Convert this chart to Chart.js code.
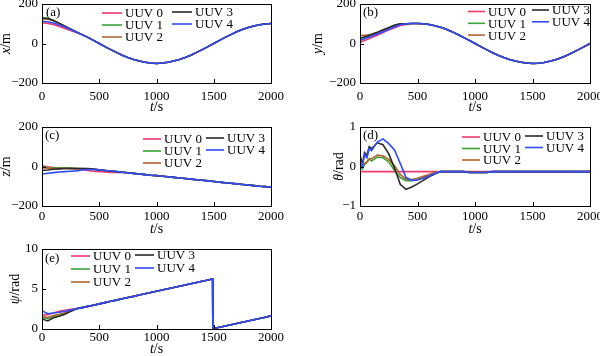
<!DOCTYPE html>
<html><head><meta charset="utf-8">
<script src="https://cdn.jsdelivr.net/npm/chart.js@4"></script>
<style>
html,body{margin:0;padding:0;background:#fff;width:600px;height:356px;overflow:hidden}
canvas{position:absolute;left:0;top:0}
</style></head><body>
<canvas id="ca" width="600" height="356"></canvas>
<canvas id="cb" width="600" height="356"></canvas>
<canvas id="cc" width="600" height="356"></canvas>
<canvas id="cd" width="600" height="356"></canvas>
<canvas id="ce" width="600" height="356"></canvas>
<script>
// ---- data ----
const NAMES = ['UUV 0','UUV 1','UUV 2','UUV 3','UUV 4'];
const T = [0,50,100,150,200,250,300,350,400,450,500,550,600,650,700,750,800,850,900,950,1000,1050,1100,1150,1200,1250,1300,1350,1400,1450,1500,1550,1600,1650,1700,1750,1800,1850,1900,1950,2000];
const T_TH = [0,20,40,60,80,100,150,200,250,300,350,400,450,500,550,600,650,700,750,800,850,900,950,1000,1050,1100,1150,1200,1250,1300,1350,1400,1450,1500,1550,1600,1650,1700,1750,1800,1850,1900,1950,2000];
const T_PSI = [0,50,100,150,200,250,300,350,400,450,500,550,600,650,700,750,800,850,900,950,1000,1050,1100,1150,1200,1250,1300,1350,1400,1450,1490,1492,1550,1600,1650,1700,1750,1800,1850,1900,1950,2000];

// (a) x/m
const X_MAIN = [113,110,104,94,83,71,58,45,31,16,0,-16,-31,-45,-59,-71,-81,-89,-95,-99,-101,-99,-95,-89,-81,-71,-59,-45,-31,-16,0,16,31,45,59,71,81,89,95,99,101];
const X_EARLY_0 = [105,102,96,86,76,66,56];
const X_EARLY_1 = [130,128,118,103,88,73];
const X_EARLY_2 = [126,124,115,101,87,72];
const X_EARLY_3 = [128,126,116,102,87,72];

// (b) y/m
const Y_MAIN = [15,26,37,48,60,72,84,95,100,101,101,100,96,90,82,72,60,46,31,16,0,-16,-31,-46,-59,-71,-81,-89,-95,-99,-101,-100,-96,-90,-82,-72,-60,-46,-31,-16,0];
const Y_EARLY_0 = [5,18,30,42,55,68,80,91,97];
const Y_EARLY_1 = [20,32,44,56,68,80,92,100];
const Y_EARLY_2 = [42,42,47,57,68,80,91,100];
const Y_EARLY_3 = [28,35,45,56,68,80,92,100];

// (c) z/m
const Z_MAIN = [-38,-34,-31,-28,-26,-24,-22,-18,-15,-15,-17,-20,-23,-26,-29,-32,-35,-38,-41,-44,-46,-49,-52,-55,-58,-61,-64,-67,-70,-73,-76,-79,-82,-85,-88,-91,-94,-97,-100,-102,-105];
const Z_EARLY_0 = [4,-2,-5,-7,-8,-9,-12,-16,-20,-24,-26,-28,-30,-30];
const Z_EARLY_1 = [-2,-5,-6,-6,-7,-8,-10,-11,-12,-14,-17];
const Z_EARLY_2 = [-6,-8,-9,-10,-10,-11,-11,-12,-13,-15,-17];
const Z_EARLY_3 = [-20,-18,-14,-12,-10,-10,-10,-10,-11,-13,-17];

// (d) theta/rad
const TH_MAIN = [0.2,0.02,0.3,0.22,0.45,0.4,0.62,0.7,0.58,0.42,0.08,-0.28,-0.35,-0.34,-0.3,-0.24,-0.18,-0.13,-0.13,-0.13,-0.13,-0.13,-0.15,-0.15,-0.15,-0.15,-0.13,-0.13,-0.13,-0.13,-0.13,-0.13,-0.13,-0.13,-0.13,-0.13,-0.13,-0.13,-0.13,-0.13,-0.13,-0.13,-0.13,-0.13];
const TH_UUV0 = [-0.13,-0.13,-0.13,-0.13,-0.13,-0.13,-0.13,-0.13,-0.13,-0.13,-0.13,-0.13,-0.13,-0.13,-0.13,-0.13,-0.13,-0.13,-0.13,-0.13,-0.13,-0.13,-0.13,-0.13,-0.13,-0.13,-0.13,-0.13,-0.13,-0.13,-0.13,-0.13,-0.13,-0.13,-0.13,-0.13,-0.13,-0.13,-0.13,-0.13,-0.13,-0.13,-0.13,-0.13];
const TH_EARLY_1 = [0.02,-0.06,0.05,0.1,0.2,0.14,0.24,0.22,0.12,-0.1,-0.28,-0.36,-0.36,-0.33,-0.28,-0.22,-0.16];
const TH_EARLY_2 = [0.05,0.0,0.08,0.12,0.18,0.2,0.29,0.27,0.18,0.02,-0.2,-0.32,-0.33,-0.3,-0.25,-0.2,-0.15];
const TH_EARLY_3 = [0.3,0.05,0.35,0.28,0.5,0.45,0.6,0.55,0.32,-0.04,-0.45,-0.58,-0.52,-0.44,-0.35,-0.26,-0.19];

// (e) psi/rad
const PSI_MAIN = [2.3,1.9,2.0,2.1,2.22,2.36,2.52,2.67,2.83,2.98,3.14,3.3,3.46,3.61,3.77,3.93,4.08,4.24,4.4,4.56,4.71,4.87,5.03,5.18,5.34,5.5,5.65,5.81,5.97,6.13,6.26,0.05,0.22,0.38,0.53,0.69,0.85,1.0,1.16,1.32,1.48,1.64];
const PSI_EARLY_0 = [1.75,1.8,2.0,2.2,2.35,2.45,2.55];
const PSI_EARLY_1 = [1.45,1.3,1.6,1.75,1.95,2.25];
const PSI_EARLY_2 = [1.55,1.45,1.7,1.85,2.02,2.3];
const PSI_EARLY_3 = [1.25,1.0,1.4,1.6,1.85,2.2];

// ---- styling ----
const COLORS = ['#f4386c','#3ca335','#b5652f','#2a2a2a','#2f4cff'];
const FONT = '"Liberation Serif","Times New Roman",serif';
const YW = 40, XH = 20;

function mk(early, main){ return early.concat(main.slice(early.length)); }
function pts(t, v){ return v.map((y,i)=>({x:t[i], y:y})); }
function fmt(v){ return String(v).replace('-', '\u2212'); }

const PANELS = [
 {id:'ca', area:[42,4,271,83], t:T, series:[mk(X_EARLY_0,X_MAIN),mk(X_EARLY_1,X_MAIN),mk(X_EARLY_2,X_MAIN),mk(X_EARLY_3,X_MAIN),X_MAIN],
  y:[-200,200,200], label:['(a)',46,12.5], yt:[[['x',1],['/m',0]],6], xt:107.5, xpad:5.5,
  leg:{c1:102,c2:172,len:20,y1:13,y2:12,dy:12}},
 {id:'cb', area:[360,4,590,83], t:T, series:[mk(Y_EARLY_0,Y_MAIN),mk(Y_EARLY_1,Y_MAIN),mk(Y_EARLY_2,Y_MAIN),mk(Y_EARLY_3,Y_MAIN),Y_MAIN],
  y:[-200,200,200], label:['(b)',363,12.5], yt:[[['y',1],['/m',0]],318], xt:107.5, xpad:5.5,
  leg:{c1:468,c2:532,len:17,y1:11.5,y2:10,dy:11.8}},
 {id:'cc', area:[42,127,271,206], t:T, series:[mk(Z_EARLY_0,Z_MAIN),mk(Z_EARLY_1,Z_MAIN),mk(Z_EARLY_2,Z_MAIN),mk(Z_EARLY_3,Z_MAIN),Z_MAIN],
  y:[-200,200,200], label:['(c)',45,135.5], yt:[[['z',1],['/m',0]],6], xt:229.5, xpad:3,
  leg:{c1:143,c2:206,len:18,y1:139,y2:138,dy:12}},
 {id:'cd', area:[360,127,590,206], t:T_TH, series:[TH_UUV0,mk(TH_EARLY_1,TH_MAIN),mk(TH_EARLY_2,TH_MAIN),mk(TH_EARLY_3,TH_MAIN),TH_MAIN],
  y:[-1,1,1], label:['(d)',363,136], yt:[[['\u03b8',1],['/rad',0]],339], xt:229, xpad:3,
  leg:{c1:462,c2:525,len:18,y1:137,y2:136,dy:11.5}},
 {id:'ce', area:[42,249,271,329], t:T_PSI, series:[mk(PSI_EARLY_0,PSI_MAIN),mk(PSI_EARLY_1,PSI_MAIN),mk(PSI_EARLY_2,PSI_MAIN),mk(PSI_EARLY_3,PSI_MAIN),PSI_MAIN],
  y:[0,10,5], label:['(e)',45,258.5], yt:[[['\u03c8',1],['/rad',0]],15], xt:349.5, xpad:1,
  leg:{c1:71,c2:135,len:19,y1:256,y2:255,dy:13}}
];

function drawMixed(ctx, parts, x, y, rot){
  ctx.save();
  ctx.translate(x, y);
  if (rot) ctx.rotate(-Math.PI/2);
  ctx.textBaseline = 'middle'; ctx.textAlign = 'left'; ctx.fillStyle = '#000';
  let w = 0;
  parts.forEach(p=>{ ctx.font = (p[1]?'italic ':'') + '14px ' + FONT; w += ctx.measureText(p[0]).width; });
  let cx = -w/2;
  parts.forEach(p=>{ ctx.font = (p[1]?'italic ':'') + '14px ' + FONT; ctx.fillText(p[0], cx, 0); cx += ctx.measureText(p[0]).width; });
  ctx.restore();
}

function decor(p){
  return { id:'decor', afterDraw(chart){
    const ctx = chart.ctx, a = chart.chartArea;
    ctx.save();
    ctx.strokeStyle = '#000'; ctx.lineWidth = 1;
    ctx.strokeRect(a.left+0.5, a.top+0.5, a.right-a.left, a.bottom-a.top);
    const xs = chart.scales.x, ys = chart.scales.y;
    ctx.beginPath();
    xs.ticks.forEach(t=>{ const px = Math.round(xs.getPixelForValue(t.value))+0.5; ctx.moveTo(px, a.bottom); ctx.lineTo(px, a.bottom-4); });
    ys.ticks.forEach(t=>{ const py = Math.round(ys.getPixelForValue(t.value))+0.5; ctx.moveTo(a.left, py); ctx.lineTo(a.left+4, py); });
    ctx.stroke();
    // legend
    ctx.font = '13px ' + FONT; ctx.textBaseline = 'middle'; ctx.textAlign = 'left';
    chart.data.datasets.forEach((ds,i)=>{
      const col = i<3?0:1, row = i<3?i:i-3;
      const lx = col?p.leg.c2:p.leg.c1;
      const ly = (col?p.leg.y2:p.leg.y1) + row*p.leg.dy;
      ctx.strokeStyle = ds.borderColor; ctx.lineWidth = 1.6;
      ctx.beginPath(); ctx.moveTo(lx, ly); ctx.lineTo(lx+p.leg.len, ly); ctx.stroke();
      ctx.fillStyle = '#000';
      ctx.fillText(ds.label, lx+p.leg.len+3, ly+1);
    });
    // panel label
    ctx.font = '13px ' + FONT; ctx.fillStyle = '#000';
    ctx.fillText(p.label[0], p.label[1], p.label[2]);
    ctx.restore();
    // axis titles
    drawMixed(ctx, p.yt[0], p.yt[1], (a.top+a.bottom)/2, true);
    drawMixed(ctx, [['t',1],['/s',0]], (a.left+a.right)/2, p.xt, false);
  }};
}

function zeroPad(s){ s.paddingLeft = 0; s.paddingRight = 0; s.paddingTop = 0; s.paddingBottom = 0; }

PANELS.forEach(p=>{
  const [l,t,r,b] = p.area;
  new Chart(document.getElementById(p.id), {
    type:'line',
    data:{ datasets: p.series.map((s,i)=>({
      label:NAMES[i], data:pts(p.t, s), borderColor:COLORS[i], backgroundColor:COLORS[i],
      borderWidth:1.6, pointRadius:0, fill:false, tension:0, order:4-i }))},
    options:{
      responsive:false, animation:false, events:[],
      layout:{ padding:{ left:l-YW, right:600-r, top:t, bottom:356-b-XH } },
      plugins:{ legend:{display:false}, tooltip:{enabled:false} },
      scales:{
        x:{ type:'linear', min:0, max:2000,
            grid:{display:false, drawTicks:false, tickLength:0}, border:{display:false},
            ticks:{ stepSize:500, autoSkip:false, maxRotation:0, padding:p.xpad, color:'#000',
                    font:{family:FONT, size:13}, callback:fmt },
            afterFit:s=>{ s.height = XH; zeroPad(s); } },
        y:{ type:'linear', min:p.y[0], max:p.y[1],
            grid:{display:false, drawTicks:false, tickLength:0}, border:{display:false},
            ticks:{ stepSize:p.y[2], autoSkip:false, padding:4, color:'#000',
                    font:{family:FONT, size:13}, callback:fmt },
            afterFit:s=>{ s.width = YW; zeroPad(s); } }
      }
    },
    plugins:[decor(p)]
  });
});
</script>
</body></html>
